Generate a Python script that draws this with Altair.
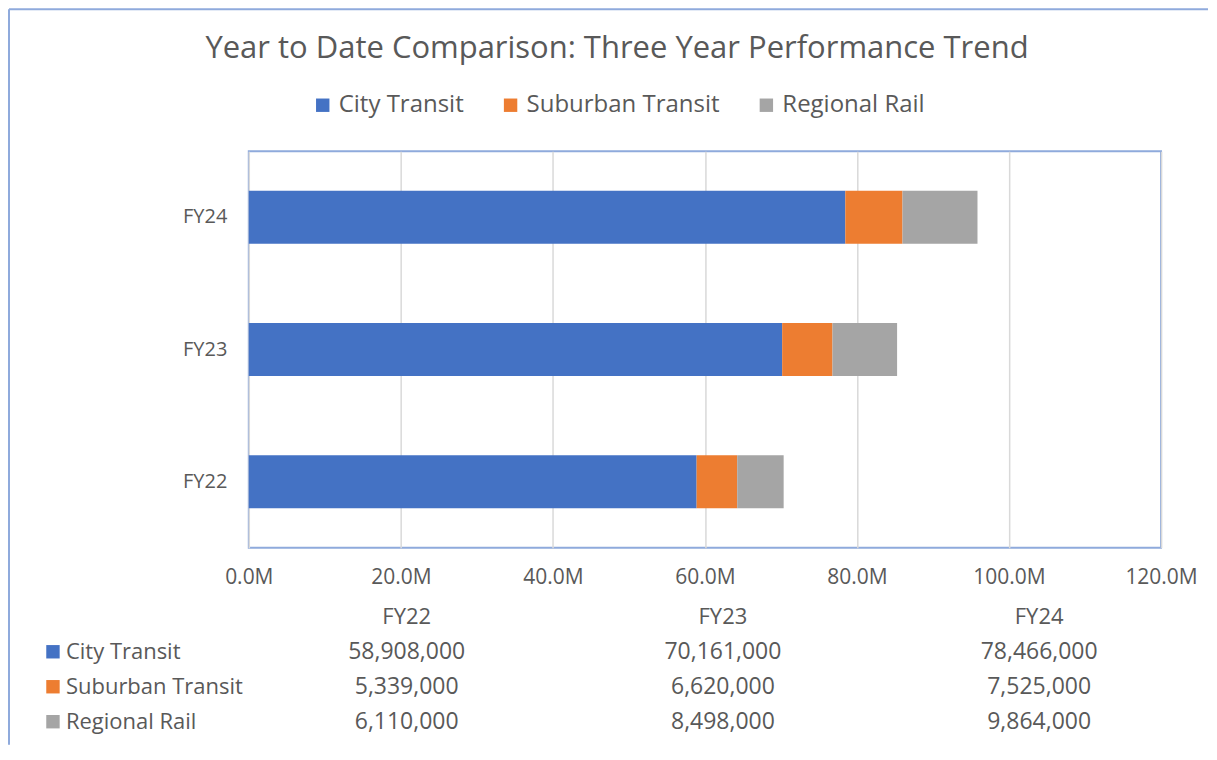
import altair as alt
import pandas as pd

# ---- data ----
years = ["FY22", "FY23", "FY24"]
series = ["City Transit", "Suburban Transit", "Regional Rail"]
city_transit = [58908000, 70161000, 78466000]
suburban_transit = [5339000, 6620000, 7525000]
regional_rail = [6110000, 8498000, 9864000]
x_ticks = [0, 20e6, 40e6, 60e6, 80e6, 100e6, 120e6]
title_text = "Year to Date Comparison: Three Year Performance Trend"

# ---- styles ----
colors = ["#4472C4", "#ED7D31", "#A5A5A5"]
FONT = "Open Sans"
TXT = "#595959"
BORDER = "#8FAADC"
W, H = 913, 397

rows = []
for k, (s, vals) in enumerate(zip(series, [city_transit, suburban_transit, regional_rail])):
    for y, v in zip(years, vals):
        rows.append({"series": s, "year": y, "value": v, "order": k})
df = pd.DataFrame(rows)
header_df = pd.DataFrame({"year": years, "row": ["hdr"] * len(years)})
label_df = pd.DataFrame({"series": series})
one = pd.DataFrame({"k": [0]})

legend = alt.Legend(
    orient="none", legendX=62, legendY=-58, direction="horizontal", title=None,
    symbolType="square", symbolSize=180, symbolStrokeWidth=0, symbolOpacity=1,
    labelFontSize=24, labelFont=FONT, labelColor=TXT, labelLimit=400,
    columnPadding=34, labelOffset=4,
)
color = alt.Color("series:N", scale=alt.Scale(domain=series, range=colors), legend=legend)

bars = alt.Chart(df).mark_bar().encode(
    x=alt.X(
        "value:Q", stack="zero",
        scale=alt.Scale(domain=[0, 120e6], nice=False),
        axis=alt.Axis(
            values=x_ticks, labelExpr="format(datum.value/1e6,'.1f')+'M'", title=None,
            grid=True, gridColor="#D9D9D9", gridWidth=1.5, domain=False, ticks=False,
            labelFlush=False, labelPadding=19, labelFontSize=21, labelFont=FONT, labelColor=TXT,
        ),
    ),
    y=alt.Y(
        "year:N", sort=years[::-1],
        scale=alt.Scale(paddingInner=0.6, paddingOuter=0.3),
        axis=alt.Axis(
            title=None, domain=False, ticks=False, labelPadding=22,
            labelFontSize=20, labelFont=FONT, labelColor=TXT,
        ),
    ),
    color=color,
    order=alt.Order("order:Q"),
)

row_scale = alt.Scale(type="point", domain=["hdr"] + series, range=[466, 571], padding=0)
col_scale = alt.Scale(type="point", domain=years, range=[158, 791], padding=0)

values_text = alt.Chart(df).mark_text(
    fontSize=23, font=FONT, color=TXT, align="center", baseline="middle"
).encode(
    x=alt.X("year:N", scale=col_scale, axis=None),
    y=alt.Y("series:N", scale=row_scale, axis=None),
    text=alt.Text("value:Q", format=","),
)
header_text = alt.Chart(header_df).mark_text(
    fontSize=22, font=FONT, color=TXT, align="center", baseline="middle"
).encode(
    x=alt.X("year:N", scale=col_scale, axis=None),
    y=alt.Y("row:N", scale=row_scale, axis=None),
    text="year:N",
)
row_labels = alt.Chart(label_df).mark_text(
    fontSize=22, font=FONT, color=TXT, align="left", baseline="middle"
).encode(
    x=alt.value(-183),
    y=alt.Y("series:N", scale=row_scale, axis=None),
    text="series:N",
)
row_keys = alt.Chart(label_df).mark_square(size=180, opacity=1, strokeWidth=0).encode(
    x=alt.value(-196),
    y=alt.Y("series:N", scale=row_scale, axis=None),
    color=color,
)
table = alt.layer(values_text, header_text, row_labels, row_keys)

border_top = alt.Chart(one).mark_rule(color=BORDER, strokeWidth=2).encode(
    x=alt.value(-240), x2=alt.value(960), y=alt.value(-142)
)
border_left = alt.Chart(one).mark_rule(color=BORDER, strokeWidth=2).encode(
    x=alt.value(-240), y=alt.value(-142), y2=alt.value(594)
)

chart = alt.layer(bars, table, border_top, border_left).resolve_scale(
    x="independent", y="independent"
).properties(
    width=W, height=H, padding=0,
    title=alt.TitleParams(
        text=title_text, fontSize=31, font=FONT, color=TXT, fontWeight="normal",
        anchor="middle", frame="group", dx=-88, offset=0, dy=57,
    ),
).configure(background="white").configure_view(stroke=BORDER, strokeWidth=2)

chart.save("out.html", embed_options={"renderer": "svg", "actions": False})
